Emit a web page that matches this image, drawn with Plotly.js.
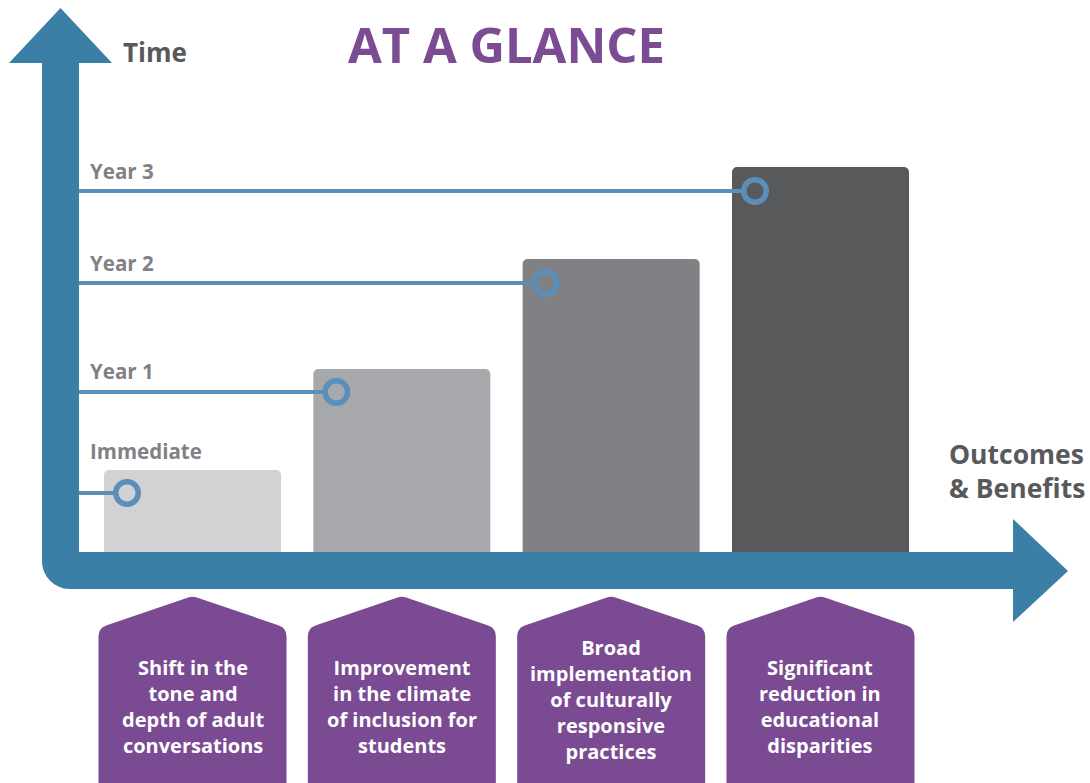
<!DOCTYPE html>
<html>
<head>
<meta charset="utf-8">
<script src="https://cdn.plot.ly/plotly-3.0.1.min.js"></script>
<style>html,body{margin:0;padding:0;background:#fff;}#chart{width:1090px;height:783px;}</style>
</head>
<body>
<div id="chart"></div>
<script>
// ---- data ----
const outcomes = [
  "Shift in the<br>tone and<br>depth of adult<br>conversations",
  "Improvement<br>in the climate<br>of inclusion for<br>students",
  "Broad<br>implementation<br>of culturally<br>responsive<br>practices",
  "Significant<br>reduction in<br>educational<br>disparities"
];
const categoryIndex = [0, 1, 2, 3];
const barHeights = [0.82, 1.83, 2.93, 3.85];
const timeLabels = ["Immediate", "Year 1", "Year 2", "Year 3"];
const timeLevels = [0.59, 1.60, 2.69, 3.61];
const barColors = ["#d1d2d4", "#a7a8ab", "#808184", "#58595b"];
const titleText = "AT A GLANCE";
const yAxisLabel = "Time";
const xAxisLabel = "Outcomes<br>& Benefits";

// ---- geometry (pixel helpers) ----
const W = 1090, H = 783;
const PX0 = 192.5, PITCH = 209.33, BASE = 552, UNIT = 100;
const X = p => (p - PX0) / PITCH;
const Y = p => (BASE - p) / UNIT;
const arrowColor = "#3b7fa7";
const lineColor = "#5b8fb9";
const purple = "#7b4b94";
const FONT = "'Open Sans', Lato, sans-serif";

const barWidth = 177 / PITCH;
const markerOffset = -65.5 / PITCH;
const axisInnerX = X(70);

// arrow path
const R = 28, k = 0.5523;
const arrowPath =
  `M ${X(42)},${Y(63)} L ${X(42)},${Y(589 - R)} ` +
  `C ${X(42)},${Y(589 - R + R * k)} ${X(42 + R - R * k)},${Y(589)} ${X(42 + R)},${Y(589)} ` +
  `L ${X(1013)},${Y(589)} L ${X(1013)},${Y(622)} L ${X(1068)},${Y(571)} L ${X(1013)},${Y(519)} ` +
  `L ${X(1013)},${Y(552)} L ${X(79)},${Y(552)} L ${X(79)},${Y(63)} L ${X(112)},${Y(63)} ` +
  `L ${X(60.5)},${Y(8)} L ${X(9)},${Y(63)} Z`;

function pentagon(i) {
  const cx = PX0 + PITCH * i, hw = 94, top = 596, sh = 628, bot = 795, r = 8;
  return `M ${X(cx - hw)},${Y(bot)} L ${X(cx - hw)},${Y(sh + r)} ` +
    `Q ${X(cx - hw)},${Y(sh)} ${X(cx - hw + 7.6)},${Y(sh - 2.6)} ` +
    `L ${X(cx - 5)},${Y(top + 1.7)} Q ${X(cx)},${Y(top)} ${X(cx + 5)},${Y(top + 1.7)} ` +
    `L ${X(cx + hw - 7.6)},${Y(sh - 2.6)} Q ${X(cx + hw)},${Y(sh)} ${X(cx + hw)},${Y(sh + r)} ` +
    `L ${X(cx + hw)},${Y(bot)} Z`;
}

// ---- traces ----
const bars = {
  type: "bar",
  x: categoryIndex,
  y: barHeights,
  width: barWidth,
  marker: { color: barColors, line: { width: 0 }, cornerradius: 5 },
  hoverinfo: "skip"
};

const lx = [], ly = [];
categoryIndex.forEach((c, i) => {
  lx.push(axisInnerX, c + markerOffset, null);
  ly.push(timeLevels[i], timeLevels[i], null);
});
const lines = {
  type: "scatter", mode: "lines", x: lx, y: ly,
  line: { color: lineColor, width: 4 }, hoverinfo: "skip"
};
const markers = {
  type: "scatter", mode: "markers",
  x: categoryIndex.map(c => c + markerOffset),
  y: timeLevels,
  marker: { symbol: "circle", size: 22.5, color: barColors, line: { color: lineColor, width: 5.5 } },
  hoverinfo: "skip"
};

// ---- annotations ----
const annotations = [];
annotations.push({
  xref: "x", yref: "y", x: X(506), y: Y(44), text: titleText, showarrow: false,
  xanchor: "center", yanchor: "middle",
  font: { family: FONT, size: 49, color: purple, weight: 700 }
});
annotations.push({
  xref: "x", yref: "y", x: X(121), y: Y(52), text: yAxisLabel, showarrow: false,
  xanchor: "left", yanchor: "middle",
  font: { family: FONT, size: 26, color: "#58595b", weight: 700 }
});
annotations.push({
  xref: "x", yref: "y", x: X(1087), y: Y(471), text: xAxisLabel, showarrow: false,
  xanchor: "right", yanchor: "middle", align: "left",
  font: { family: FONT, size: 26.5, color: "#58595b", weight: 700 }
});
const labelLift = [0.42, 0.21, 0.20, 0.20];
timeLabels.forEach((t, i) => {
  annotations.push({
    xref: "x", yref: "y", x: X(88), y: timeLevels[i] + labelLift[i], text: t, showarrow: false,
    xanchor: "left", yanchor: "middle",
    font: { family: FONT, size: 20.5, color: "#808184", weight: 700 }
  });
});
outcomes.forEach((t, i) => {
  const n = t.split("<br>").length;
  annotations.push({
    xref: "x", yref: "y", x: categoryIndex[i], y: Y(706 - (n - 4) * 7), text: t, showarrow: false,
    xanchor: "center", yanchor: "middle", align: "center",
    font: { family: FONT, size: 20, color: "#ffffff", weight: 700 }
  });
});

const shapes = [
  { type: "path", xref: "x", yref: "y", path: arrowPath, fillcolor: arrowColor, line: { width: 0 }, layer: "above" }
];
categoryIndex.forEach(i => {
  shapes.push({ type: "path", xref: "x", yref: "y", path: pentagon(i), fillcolor: "#7a4a92", line: { width: 0 }, layer: "below" });
});

const layout = {
  width: W, height: H,
  margin: { l: 0, r: 0, t: 0, b: 0, pad: 0 },
  paper_bgcolor: "#ffffff", plot_bgcolor: "#ffffff",
  showlegend: false,
  xaxis: { range: [X(0), X(W)], visible: false, fixedrange: true },
  yaxis: { range: [Y(H), Y(0)], visible: false, fixedrange: true },
  shapes: shapes,
  annotations: annotations,
  hovermode: false
};

Plotly.newPlot("chart", [bars, lines, markers], layout, { displayModeBar: false, staticPlot: true });
</script>
</body>
</html>
